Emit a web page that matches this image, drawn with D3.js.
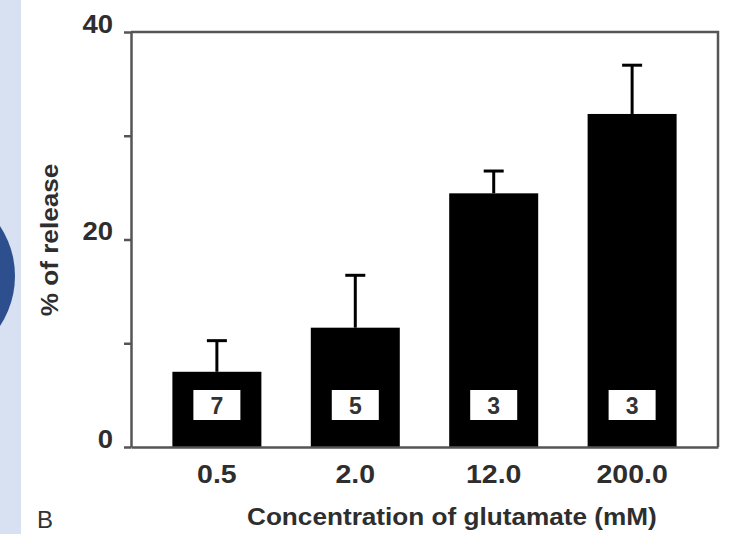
<!DOCTYPE html>
<html>
	<head>
		<title>Glutamate release</title>
		<style>
			body, html {
				margin: 0;
				padding: 0;
				background: #fff;
			}
			svg { display: block; }
		</style>
	</head>
	<body>

		<svg id="svg" width="730" height="534"></svg>

		<script src="https://d3js.org/d3.v7.min.js"></script>
		<script>
			// Data
			const concentrations = ['0.5', '2.0', '12.0', '200.0']
			const release = [7.25, 11.5, 24.45, 32.1]
			const sem = [3.0, 5.05, 2.15, 4.7]
			const nCells = [7, 5, 3, 3]
			const yTicks = [0, 10, 20, 30, 40]

			const svg = d3.select('#svg')
			const font = '"Liberation Sans", Arial, sans-serif'
			const ink = '#2e2e2e'

			// stretch text a little, the scanned figure is wider than Arial
			function stretch(sel, k) {
				sel.each(function () {
					const len = this.getComputedTextLength()
					if (len > 0) {
						d3.select(this)
							.attr('textLength', len * k)
							.attr('lengthAdjust', 'spacingAndGlyphs')
					}
				})
			}

			// page decoration on the left
			svg.append('rect')
				.attr('x', 0).attr('y', 0)
				.attr('width', 21).attr('height', 534)
				.attr('fill', '#d8e1f1')
			svg.append('circle')
				.attr('cx', -76).attr('cy', 276).attr('r', 91)
				.attr('fill', '#2d4f8e')

			// scales
			const x = d3.scaleBand()
				.domain(concentrations)
				.range([131, 718])
				.paddingInner(0.357)
				.paddingOuter(0.299)

			const y = d3.scaleLinear()
				.domain([0, 40])
				.range([447, 32])

			// bars
			svg.selectAll('.bar')
				.data(concentrations)
				.join('rect')
				.attr('class', 'bar')
				.attr('x', d => x(d))
				.attr('width', x.bandwidth())
				.attr('y', (d, i) => y(release[i]))
				.attr('height', (d, i) => y(0) - y(release[i]))
				.attr('fill', '#000')

			// error bars (upper only)
			const err = svg.append('g')
				.attr('stroke', '#000')
				.attr('stroke-width', 3)
			concentrations.forEach((d, i) => {
				const cx = x(d) + x.bandwidth() / 2
				err.append('line')
					.attr('x1', cx).attr('x2', cx)
					.attr('y1', y(release[i])).attr('y2', y(release[i] + sem[i]))
				err.append('line')
					.attr('x1', cx - 10).attr('x2', cx + 10)
					.attr('y1', y(release[i] + sem[i])).attr('y2', y(release[i] + sem[i]))
			})

			// n boxes inside bars
			const boxes = svg.selectAll('.nbox')
				.data(nCells)
				.join('g')
				.attr('class', 'nbox')
				.attr('transform', (d, i) => `translate(${x(concentrations[i]) + x.bandwidth() / 2},${y(0) - 42})`)
			boxes.append('rect')
				.attr('x', -23.5).attr('y', -15)
				.attr('width', 47).attr('height', 30)
				.attr('fill', '#fff')
			boxes.append('text')
				.attr('text-anchor', 'middle')
				.attr('dy', '0.36em')
				.attr('y', 1)
				.style('font-family', font)
				.style('font-size', '23px')
				.style('font-weight', 'bold')
				.attr('fill', '#333')
				.text(d => d)

			// frame: top and right
			svg.append('path')
				.attr('d', `M${x.range()[0]},${y(40)}H${x.range()[1]}V${y(0)}`)
				.attr('fill', 'none')
				.attr('stroke', '#555')
				.attr('stroke-width', 2.5)

			// y axis
			const yAxis = svg.append('g')
				.attr('transform', `translate(${x.range()[0]},0)`)
				.call(d3.axisLeft(y)
					.tickValues(yTicks)
					.tickSize(7)
					.tickSizeOuter(0)
					.tickPadding(11)
					.tickFormat(d => d % 20 === 0 ? d : ''))
			yAxis.selectAll('path, line')
				.attr('stroke', '#555')
				.attr('stroke-width', 2.5)
			yAxis.selectAll('text')
				.attr('y', -8)
				.attr('fill', ink)
				.style('font-family', font)
				.style('font-size', '25px')
				.style('font-weight', 'bold')
				.call(stretch, 1.1)

			// x axis
			const xAxis = svg.append('g')
				.attr('transform', `translate(0,${y(0)})`)
				.call(d3.axisBottom(x)
					.tickSize(0)
					.tickSizeOuter(0)
					.tickPadding(18))
			xAxis.select('.domain')
				.attr('stroke', '#555')
				.attr('stroke-width', 2.5)
			xAxis.selectAll('text')
				.attr('fill', ink)
				.style('font-family', font)
				.style('font-size', '25px')
				.style('font-weight', 'bold')
				.call(stretch, 1.14)

			// axis titles
			svg.append('text')
				.attr('x', 247).attr('y', 525)
				.attr('fill', ink)
				.style('font-family', font)
				.style('font-size', '24px')
				.style('font-weight', 'bold')
				.text('Concentration of glutamate (mM)')
				.call(stretch, 1.09)

			svg.append('text')
				.attr('transform', 'translate(58,240) rotate(-90)')
				.attr('text-anchor', 'middle')
				.attr('fill', ink)
				.style('font-family', font)
				.style('font-size', '24px')
				.style('font-weight', 'bold')
				.text('% of release')
				.call(stretch, 1.09)

			// panel letter
			svg.append('text')
				.attr('x', 37).attr('y', 528)
				.attr('fill', '#333')
				.style('font-family', font)
				.style('font-size', '24px')
				.text('B')
		</script>
	</body>
</html>
